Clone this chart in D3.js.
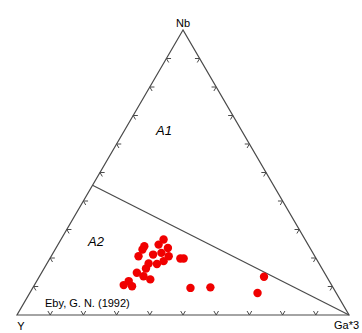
<!DOCTYPE html>
<html>
<head>
<meta charset="utf-8">
<script src="https://cdn.jsdelivr.net/npm/d3@7"></script>
<style>
  body { margin: 0; background: #fff; }
  text { font-family: "Liberation Sans", Arial, sans-serif; fill: #000; }
</style>
</head>
<body>
<div id="chart"></div>
<script>
const width = 362;
const height = 333;
const corners = { top: 30, bottom: 315, left: 17, right: 349 };

// apex labels
const apexLabels = ["Nb", "Y", "Ga*3"];
// tick positions (fractions) along each edge
const tickValues = [0.1, 0.2, 0.3, 0.4, 0.5, 0.6, 0.7, 0.8, 0.9];
// A1 / A2 boundary (Eby 1992): Y/Nb = 1.2 on the Nb-Y side to the Ga*3 apex
const boundaryNb = [0.455, 0];
const boundaryGa = [0, 1];
// sample compositions (Nb, Ga*3 fractions; Y = rest)
const sampleNb = [0.265, 0.247, 0.235, 0.218, 0.212, 0.230, 0.241, 0.206, 0.206, 0.189,
  0.179, 0.181, 0.163, 0.148, 0.136, 0.125, 0.119, 0.105, 0.101, 0.198,
  0.198, 0.095, 0.097, 0.134, 0.077];
const sampleGa = [0.309, 0.303, 0.337, 0.326, 0.304, 0.263, 0.263, 0.263, 0.354, 0.347,
  0.332, 0.306, 0.307, 0.287, 0.313, 0.339, 0.277, 0.269, 0.296, 0.393,
  0.403, 0.475, 0.534, 0.677, 0.686];

// SCALES: x from cartesian (ga + nb/2), y from nb
const xScale = d3.scaleLinear().domain([0, 1]).range([corners.left, corners.right]);
const yScale = d3.scaleLinear().domain([0, 1]).range([corners.bottom, corners.top]);
const project = (nb, ga) => [xScale(ga + nb / 2), yScale(nb)];

const svg = d3.select("#chart").append("svg")
  .attr("width", width).attr("height", height);

const lineColor = "#4a4a4a";

// TRIANGLE
const apexes = [project(1, 0), project(0, 0), project(0, 1)];
svg.append("path")
  .attr("d", d3.line()(apexes) + "Z")
  .attr("fill", "none")
  .attr("stroke", lineColor)
  .attr("stroke-width", 1.2);

// TICKS: small chevrons pointing inward along the two other grid directions
const tickLen = 0.014;
const tickG = svg.append("g").attr("stroke", lineColor).attr("stroke-width", 1);
function tick(p0, p1) {
  tickG.append("line")
    .attr("x1", p0[0]).attr("y1", p0[1])
    .attr("x2", p1[0]).attr("y2", p1[1]);
}
tickValues.forEach((t) => {
  // bottom edge (Y-Ga): nb = 0
  [[tickLen, 0], [tickLen, -tickLen]].forEach(([dn, dg]) => {
    tick(project(0, t), project(dn, t + dg));
  });
  // left edge (Nb-Y): ga = 0
  [[0, tickLen], [-tickLen, tickLen]].forEach(([dn, dg]) => {
    tick(project(t, 0), project(t + dn, dg));
  });
  // right edge (Nb-Ga): y = 0
  [[-tickLen, 0], [0, -tickLen]].forEach(([dn, dg]) => {
    tick(project(t, 1 - t), project(t + dn, 1 - t + dg));
  });
});

// BOUNDARY LINE
svg.append("path")
  .attr("d", d3.line()(boundaryNb.map((nb, i) => project(nb, boundaryGa[i]))))
  .attr("fill", "none")
  .attr("stroke", lineColor)
  .attr("stroke-width", 1.2);

// FIELD LABELS
svg.append("text").text("A1")
  .attr("x", 164).attr("y", 135)
  .attr("text-anchor", "middle")
  .style("font-size", "13px").style("font-style", "italic");
svg.append("text").text("A2")
  .attr("x", 96).attr("y", 246)
  .attr("text-anchor", "middle")
  .style("font-size", "13px").style("font-style", "italic");

svg.append("text").text("Eby, G. N. (1992)")
  .attr("x", 45).attr("y", 307)
  .style("font-size", "11px");

// APEX LABELS
svg.append("text").text(apexLabels[0])
  .attr("x", apexes[0][0]).attr("y", 27)
  .attr("text-anchor", "middle").style("font-size", "11px");
svg.append("text").text(apexLabels[1])
  .attr("x", 21).attr("y", 330)
  .attr("text-anchor", "middle").style("font-size", "11px");
svg.append("text").text(apexLabels[2])
  .attr("x", 334).attr("y", 329)
  .style("font-size", "11px");

// SAMPLES
svg.append("g")
  .selectAll("circle")
  .data(sampleNb.map((nb, i) => ({ nb, ga: sampleGa[i] })))
  .join("circle")
  .attr("cx", (d) => project(d.nb, d.ga)[0])
  .attr("cy", (d) => project(d.nb, d.ga)[1])
  .attr("r", 4.2)
  .attr("fill", "#f00000");
</script>
</body>
</html>
